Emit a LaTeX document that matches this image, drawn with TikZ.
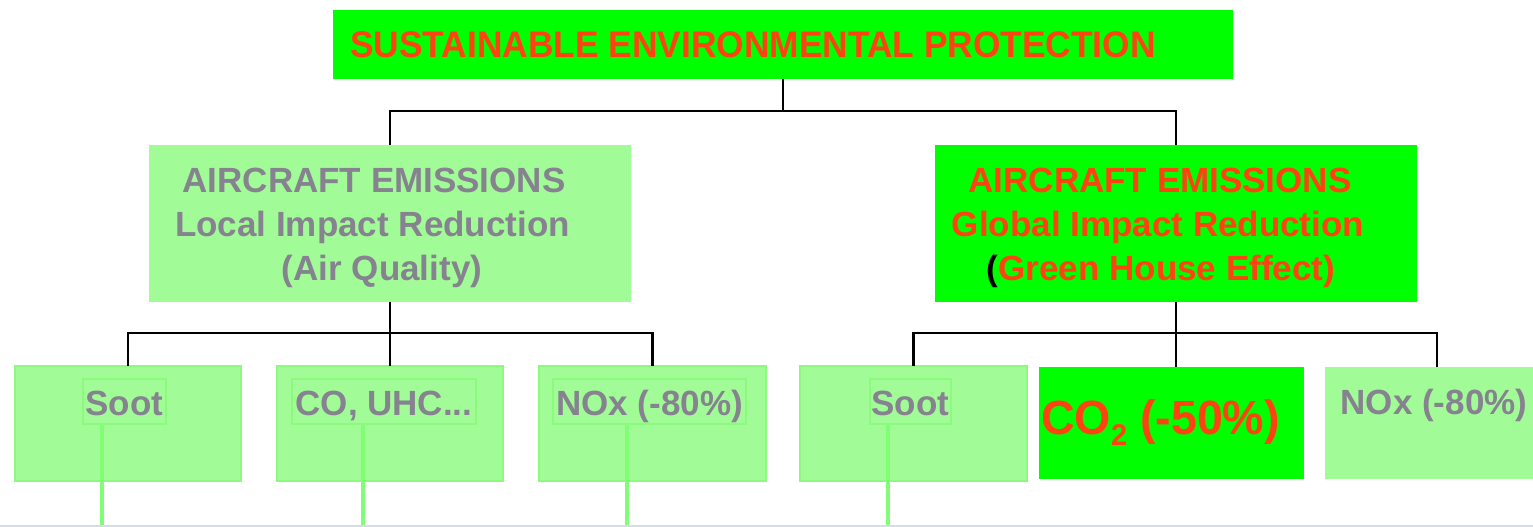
\documentclass[tikz,border=0pt]{standalone}
\usepackage{graphicx}
\usepackage{fontspec}
\setmainfont{Liberation Sans}
\definecolor{vivid}{RGB}{0,255,0}
\definecolor{pale}{RGB}{161,252,151}
\definecolor{paleedge}{RGB}{140,250,125}
\definecolor{stemgreen}{RGB}{128,254,118}
\definecolor{hot}{RGB}{255,66,18}
\definecolor{ash}{RGB}{134,130,143}
\definecolor{rule}{RGB}{212,221,229}
\newcommand{\bigbold}{\fontsize{35}{44}\selectfont\bfseries}
\newcommand{\titlebold}{\fontsize{37}{44}\selectfont\bfseries}
\tikzset{
  panel/.style={rectangle, inner sep=0pt, outer sep=0pt},
  solid panel/.style={panel, fill=vivid},
  soft panel/.style={panel, fill=pale},
  soft framed/.style={soft panel, draw=paleedge, line width=2pt},
  label ash/.style={inner sep=0pt, anchor=base, text=ash, font=\bigbold},
  label hot/.style={inner sep=0pt, anchor=base, text=hot, font=\bigbold},
  tagbox/.style={draw=paleedge, line width=2pt, inner sep=0pt, anchor=base,
    text height=36pt, text depth=9pt, text=ash, font=\bigbold},
  conn/.style={draw=black, line width=2.5pt},
  stem/.style={draw=stemgreen, line width=4pt}
}
\begin{document}
\begin{tikzpicture}[x=1pt,y=-1pt]
\clip (0,0) rectangle (1533,527);
\fill[white] (0,0) rectangle (1533,527);

% top level
\node[solid panel, minimum width=900pt, minimum height=69pt] (top) at (783,44.6) {};
\node[inner sep=0pt, anchor=base west, text=hot, font=\titlebold] (title) at (350,58)
  {\scalebox{0.955}[1]{SUSTAINABLE ENVIRONMENTAL PROTECTION}};

% second level
\node[soft panel, minimum width=482pt, minimum height=156.5pt] (local) at (390,223.3) {};
\node[label ash] (la) at (374,192) {AIRCRAFT EMISSIONS};
\node[label ash] (lb) at (372.5,236) {Local Impact Reduction};
\node[label ash] (lc) at (382,280) {(Air Quality)};

\node[solid panel, minimum width=482pt, minimum height=156.5pt] (global) at (1176,223.3) {};
\node[label hot] (ga) at (1160,192) {AIRCRAFT EMISSIONS};
\node[label hot] (gb) at (1158,236) {Global Impact Reduction};
\node[label hot] (gc) at (1161,280) {{\color{black}(}Green House Effect)};

% third level
\node[soft framed, minimum width=226pt, minimum height=115.5pt] (b1) at (128,423.3) {};
\node[soft framed, minimum width=226pt, minimum height=115.5pt] (b2) at (390,423.3) {};
\node[soft framed, minimum width=227pt, minimum height=115.5pt] (b3) at (652.5,423.3) {};
\node[soft framed, minimum width=227pt, minimum height=115.5pt] (b4) at (913.5,423.3) {};
\node[solid panel, minimum width=265pt, minimum height=112pt] (co2) at (1171.5,423) {};
\node[soft panel, minimum width=224pt, minimum height=112pt] (b6) at (1437,423) {};

\node[tagbox, minimum width=83pt] (t1) at (124.5,415) {Soot};
\node[tagbox, minimum width=184pt] (t2) at (384,415) {CO, UHC...};
\node[tagbox, minimum width=193pt] (t3) at (649.5,415) {NOx (-80\%)};
\node[tagbox, minimum width=81pt] (t4) at (910.5,415) {Soot};

\node[inner sep=0pt, anchor=base west, text=hot, font=\fontsize{48}{48}\selectfont\bfseries] (co2t) at (1041,434)
  {\scalebox{0.97}[1]{CO\raisebox{-11pt}{\fontsize{30}{30}\selectfont 2} (-50\%)}};
\node[label ash] (n6) at (1434,414) {NOx (-80\%)};

% connectors
\coordinate (busT) at (783,111);
\coordinate (busL) at (390,333);
\coordinate (busR) at (1176,333);

\draw[conn] (top.south) -- (busT);
\draw[conn] (local.north) |- (busT) -| (global.north);

\draw[conn] (local.south) -- (busL);
\draw[conn] (b1.north) |- (busL) -| (b3.north);
\draw[conn] (busL) -- (b2.north);

\draw[conn] (global.south) -- (busR);
\draw[conn] (b4.north) |- (busR) -| (b6.north);
\draw[conn] (busR) -- (busR |- co2.north);

% green stems running down from the tags
\coordinate (g1) at (101.7,525);
\coordinate (g2) at (363,525);
\coordinate (g3) at (627,525);
\coordinate (g4) at (887.6,525);
\draw[stem] (t1.south -| g1) -- (g1);
\draw[stem] (t2.south -| g2) -- (g2);
\draw[stem] (t3.south -| g3) -- (g3);
\draw[stem] (t4.south -| g4) -- (g4);

% bottom rule
\draw[draw=rule, line width=1.5pt] (0,525.8) -- (1533,525.8);
\end{tikzpicture}
\end{document}
